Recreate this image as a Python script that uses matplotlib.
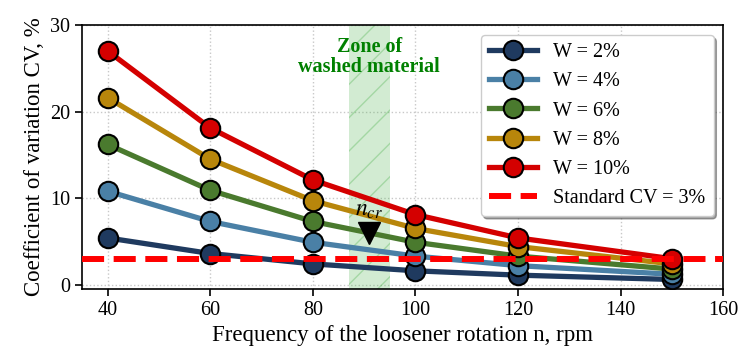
import matplotlib.pyplot as plt
import numpy as np

plt.rcParams['font.family'] = ['Liberation Serif', 'DejaVu Serif']
plt.rcParams['mathtext.fontset'] = 'stix'

rpm = [40, 60, 80, 100, 120, 150]
cv_w2 = [5.4, 3.6, 2.4, 1.6, 1.1, 0.6]
cv_w4 = [10.8, 7.3, 4.9, 3.3, 2.2, 1.2]
cv_w6 = [16.2, 10.9, 7.3, 4.9, 3.3, 1.8]
cv_w8 = [21.6, 14.5, 9.7, 6.5, 4.4, 2.4]
cv_w10 = [27.0, 18.1, 12.1, 8.1, 5.4, 3.0]
labels = ['W = 2%', 'W = 4%', 'W = 6%', 'W = 8%', 'W = 10%']
colors = ['#1f3a5f', '#4a80a6', '#4a7a2e', '#b8860b', '#d40000']
cv_standard = 3
zone = (87, 95)
n_cr = 91
n_cr_cv = 6.0

fig = plt.figure(figsize=(7.49, 3.52), dpi=100)
ax = fig.add_axes([0.1095, 0.179, 0.856, 0.75])

ax.axvspan(zone[0], zone[1], facecolor=(0.3, 0.7, 0.3, 0.25),
           edgecolor=(0.3, 0.7, 0.3, 0.35), hatch='/', linewidth=0, zorder=1)
ax.text(sum(zone) / 2, 26.3, 'Zone of\nwashed material', color='green',
        fontsize=14.5, fontweight='bold', ha='center', va='center',
        linespacing=1.0, zorder=5)

for ys, lab, c in zip([cv_w2, cv_w4, cv_w6, cv_w8, cv_w10], labels, colors):
    ax.plot(rpm, ys, '-o', color=c, lw=3.8, ms=14, mfc=c, mec='black',
            mew=1.5, label=lab, zorder=3)

ax.axhline(cv_standard, color='red', ls='--', lw=4.3,
           label='Standard CV = 3%', zorder=4)

ax.plot([n_cr], [n_cr_cv], marker='v', color='black', ms=16, zorder=6)
ax.text(n_cr, n_cr_cv + 2.6, '$n_{cr}$', fontsize=17, ha='center',
        va='center', zorder=6)

ax.set_xlim(35, 160)
ax.set_ylim(-0.5, 30)
ax.set_xticks([40, 60, 80, 100, 120, 140, 160])
ax.set_yticks([0, 10, 20, 30])
ax.tick_params(labelsize=14.5, length=5, width=1.2)
ax.grid(True, ls=':', color='#c8c8c8', lw=1)
ax.set_axisbelow(True)
for s in ax.spines.values():
    s.set_linewidth(1.2)

ax.set_xlabel('Frequency of the loosener rotation n, rpm', fontsize=16.5)
ax.set_ylabel('Coefficient of variation CV, %', fontsize=16.5)

ax.legend(loc='upper right', fontsize=14.5, shadow=True, fancybox=True,
          handlelength=2.4, borderpad=0.4, labelspacing=0.5,
          borderaxespad=0, bbox_to_anchor=(0.985, 0.962), framealpha=1)

fig.savefig('out.png', dpi=100)
